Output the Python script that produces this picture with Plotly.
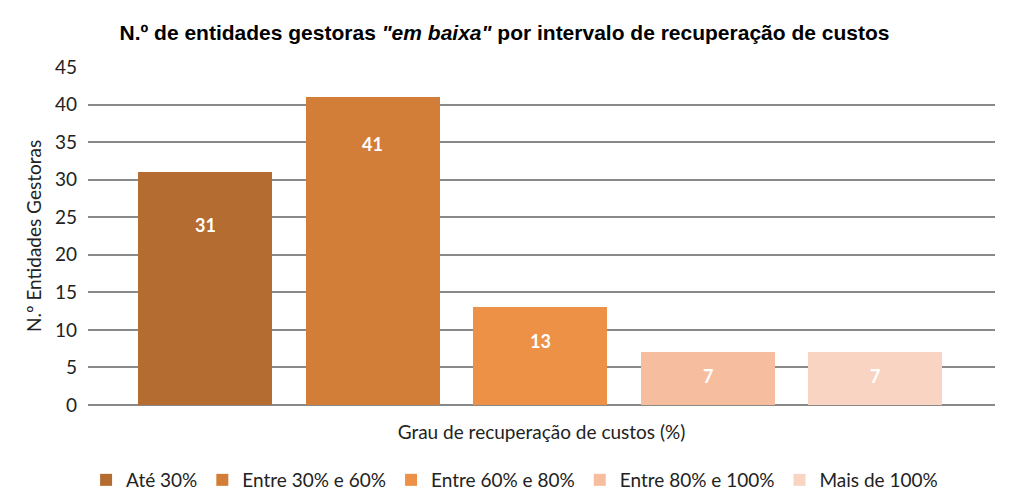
import plotly.graph_objects as go

series = ["Até 30%", "Entre 30% e 60%", "Entre 60% e 80%", "Entre 80% e 100%", "Mais de 100%"]
values = [31, 41, 13, 7, 7]
colors = ["#B46C30", "#D37E38", "#EC9145", "#F6BE9F", "#F9D4C3"]
label_shift = [-40, -34, -21, -11, -11]

y_ticks = [0, 5, 10, 15, 20, 25, 30, 35, 40, 45]

body_font = "Lato, 'Open Sans', sans-serif"

fig = go.Figure()
for i, (name, v, c) in enumerate(zip(series, values, colors)):
    fig.add_trace(go.Bar(
        x=[i], y=[v], name=name, width=0.8,
        marker=dict(color=c, line=dict(width=0)),
        hoverinfo="skip",
    ))
    fig.add_annotation(
        x=i, y=v, text=str(v), showarrow=False, yanchor="top", yshift=label_shift[i],
        font=dict(family=body_font, size=18, color="white", weight="bold"),
    )

fig.update_layout(
    width=1009, height=492,
    margin=dict(l=88, r=14, t=67, b=87),
    paper_bgcolor="white", plot_bgcolor="white",
    title=dict(
        text='<b>N.º de entidades gestoras <i>"em baixa"</i> por intervalo de recuperação de custos</b>',
        x=0.5, xref="container", xanchor="center", y=1 - 33 / 492, yanchor="middle",
        font=dict(family="'Liberation Sans', Arial, sans-serif", size=21, color="black"),
    ),
    showlegend=True,
    legend=dict(
        orientation="h", x=0.51, xref="container", xanchor="center",
        y=12 / 492, yref="container", yanchor="middle",
        font=dict(family=body_font, size=19, color="#222"),
        itemclick=False, itemdoubleclick=False, tracegroupgap=0,
    ),
    bargap=0,
)
fig.update_xaxes(
    range=[-0.6985, 4.716], showticklabels=False, showgrid=False, zeroline=False,
    showline=False, ticks="",
    title=dict(text="Grau de recuperação de custos (%)",
               font=dict(family=body_font, size=19, color="#222"), standoff=20),
)
fig.update_yaxes(
    range=[0, 45], tickvals=y_ticks, showgrid=True, gridcolor="#898989", gridwidth=1.5,
    zeroline=True, zerolinecolor="#898989", zerolinewidth=1.5,
    tickfont=dict(family=body_font, size=19, color="#222"), ticklabelstandoff=10,
    title=dict(text="N.º Entidades Gestoras", font=dict(family=body_font, size=19, color="#222"), standoff=8),
)

fig.write_html("out.html")
